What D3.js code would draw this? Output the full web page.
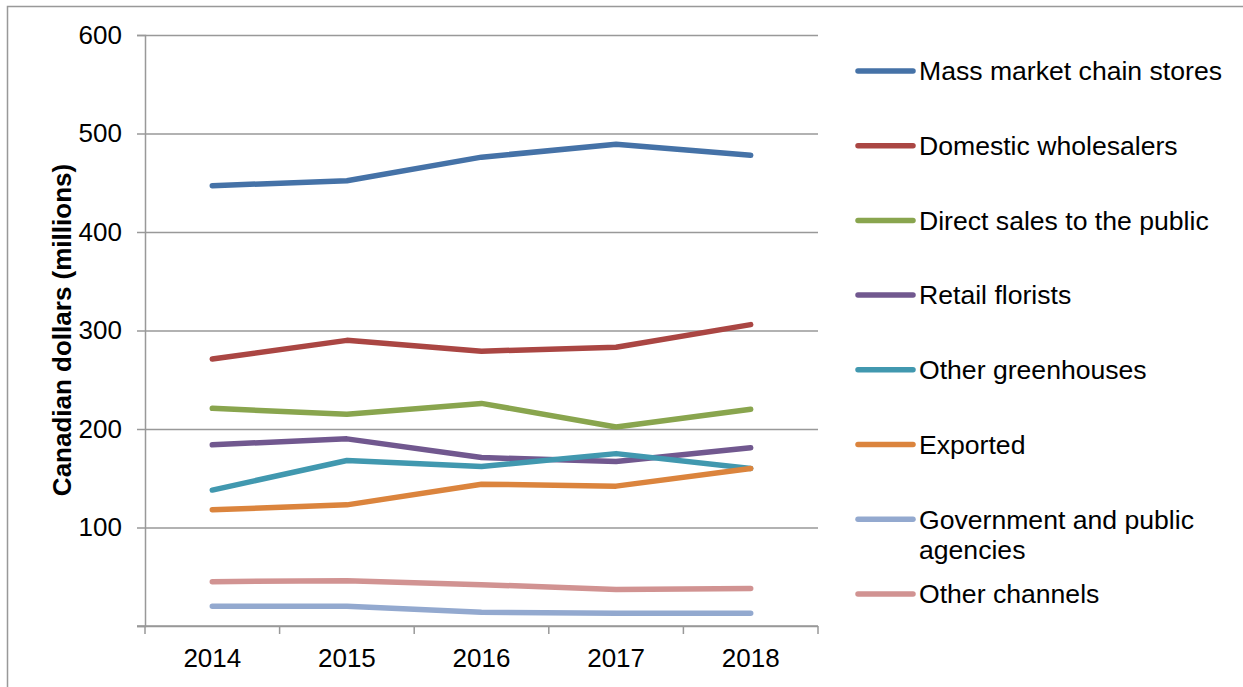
<!DOCTYPE html>
<html>
<head>
<meta charset="utf-8">
<script src="https://cdn.jsdelivr.net/npm/d3@7"></script>
<style>
  body { margin: 0; background: #fff; }
  text { font-family: "Liberation Sans", Arial, sans-serif; fill: #000; }
</style>
</head>
<body>
<div id="chart"></div>
<script>
// data
const years = ["2014", "2015", "2016", "2017", "2018"];
const seriesNames = [
    "Mass market chain stores",
    "Domestic wholesalers",
    "Direct sales to the public",
    "Retail florists",
    "Other greenhouses",
    "Exported",
    "Government and public agencies",
    "Other channels"
];
const massMarket = [447, 452, 476, 489, 478];
const domestic = [271, 290, 279, 283, 306];
const directSales = [221, 215, 226, 202, 220];
const retailFlorists = [184, 190, 171, 167, 181];
const otherGreenhouses = [138, 168, 162, 175, 160];
const exported = [118, 123, 144, 142, 160];
const government = [20, 20, 14, 13, 13];
const otherChannels = [45, 46, 42, 37, 38];
const yTicks = [0, 100, 200, 300, 400, 500, 600];

const colors = ["#4572A7", "#AA4643", "#89A54E", "#71588F", "#4198AF", "#DB843D", "#93A9CF", "#D19392"];
const allValues = [massMarket, domestic, directSales, retailFlorists, otherGreenhouses, exported, government, otherChannels];

const series = seriesNames.map((name, i) => ({
    name: name,
    color: colors[i],
    values: allValues[i].map((v, j) => ({ year: years[j], value: v }))
}));

const W = 1243, H = 687;
const plot = { left: 145, right: 818, top: 35, bottom: 626 };

const svg = d3.select("#chart")
    .append("svg")
    .attr("width", W)
    .attr("height", H);

// outer frame
svg.append("rect")
    .attr("x", 7.5)
    .attr("y", 6.5)
    .attr("width", 1300)
    .attr("height", 700)
    .attr("fill", "none")
    .attr("stroke", "#999")
    .attr("stroke-width", 1.5);

const x = d3.scaleBand()
    .domain(years)
    .range([plot.left, plot.right]);

const y = d3.scaleLinear()
    .domain([0, 600])
    .range([plot.bottom, plot.top]);

// Y axis with gridlines
const yAxis = svg.append("g")
    .attr("transform", "translate(" + plot.left + ",0)")
    .call(d3.axisLeft(y)
        .tickValues(yTicks)
        .tickSize(8)
        .tickPadding(15)
        .tickFormat(d => d === 0 ? "" : d));

yAxis.select(".domain").attr("stroke", "#999").attr("stroke-width", 1.5);
yAxis.selectAll(".tick line").attr("stroke", "#999").attr("stroke-width", 1.5);
yAxis.selectAll(".tick text")
    .style("font-size", "26px")
    .attr("fill", "#000");

yAxis.selectAll(".tick")
    .append("line")
    .attr("x1", 0)
    .attr("x2", plot.right - plot.left)
    .attr("stroke", "#999")
    .attr("stroke-width", 1.5);

// X axis: labels at category centers, ticks between categories
const xAxis = svg.append("g")
    .attr("transform", "translate(0," + plot.bottom + ")")
    .call(d3.axisBottom(x).tickSize(0).tickPadding(23));

xAxis.select(".domain").remove();
xAxis.selectAll(".tick text")
    .style("font-size", "26px")
    .attr("fill", "#000");

svg.append("line")
    .attr("x1", plot.left - 8)
    .attr("x2", plot.right)
    .attr("y1", plot.bottom)
    .attr("y2", plot.bottom)
    .attr("stroke", "#999")
    .attr("stroke-width", 1.5);

const boundaries = years.map(d => x(d)).concat([x(years[years.length - 1]) + x.bandwidth()]);
svg.selectAll(".xtick")
    .data(boundaries)
    .enter()
    .append("line")
    .attr("class", "xtick")
    .attr("x1", d => d)
    .attr("x2", d => d)
    .attr("y1", plot.bottom)
    .attr("y2", plot.bottom + 8)
    .attr("stroke", "#999")
    .attr("stroke-width", 1.5);

// Y title
svg.append("text")
    .attr("transform", "translate(71,330) rotate(-90)")
    .attr("text-anchor", "middle")
    .style("font-size", "26px")
    .style("font-weight", "bold")
    .text("Canadian dollars (millions)");

// lines
const line = d3.line()
    .x(d => x(d.year) + x.bandwidth() / 2)
    .y(d => y(d.value));

svg.selectAll(".series")
    .data(series)
    .enter()
    .append("path")
    .attr("class", "series")
    .attr("d", d => line(d.values))
    .attr("fill", "none")
    .attr("stroke", d => d.color)
    .attr("stroke-width", 5.5)
    .attr("stroke-linecap", "round")
    .attr("stroke-linejoin", "round");

// legend
const legendTop = 71, legendStep = 74.7;
const legend = svg.selectAll(".legend")
    .data(series)
    .enter()
    .append("g")
    .attr("class", "legend")
    .attr("transform", (d, i) => "translate(858," + (legendTop + i * legendStep) + ")");

legend.append("line")
    .attr("x1", 0)
    .attr("x2", 55)
    .attr("stroke", d => d.color)
    .attr("stroke-width", 5.5)
    .attr("stroke-linecap", "round");

legend.append("text")
    .attr("x", 61)
    .attr("dy", "0.35em")
    .style("font-size", "26.6px")
    .each(function (d) {
        const t = d3.select(this);
        if (d.name === "Government and public agencies") {
            t.append("tspan").attr("x", 61).text("Government and public");
            t.append("tspan").attr("x", 61).attr("dy", "1.15em").text("agencies");
        } else {
            t.text(d.name);
        }
    });
</script>
</body>
</html>
